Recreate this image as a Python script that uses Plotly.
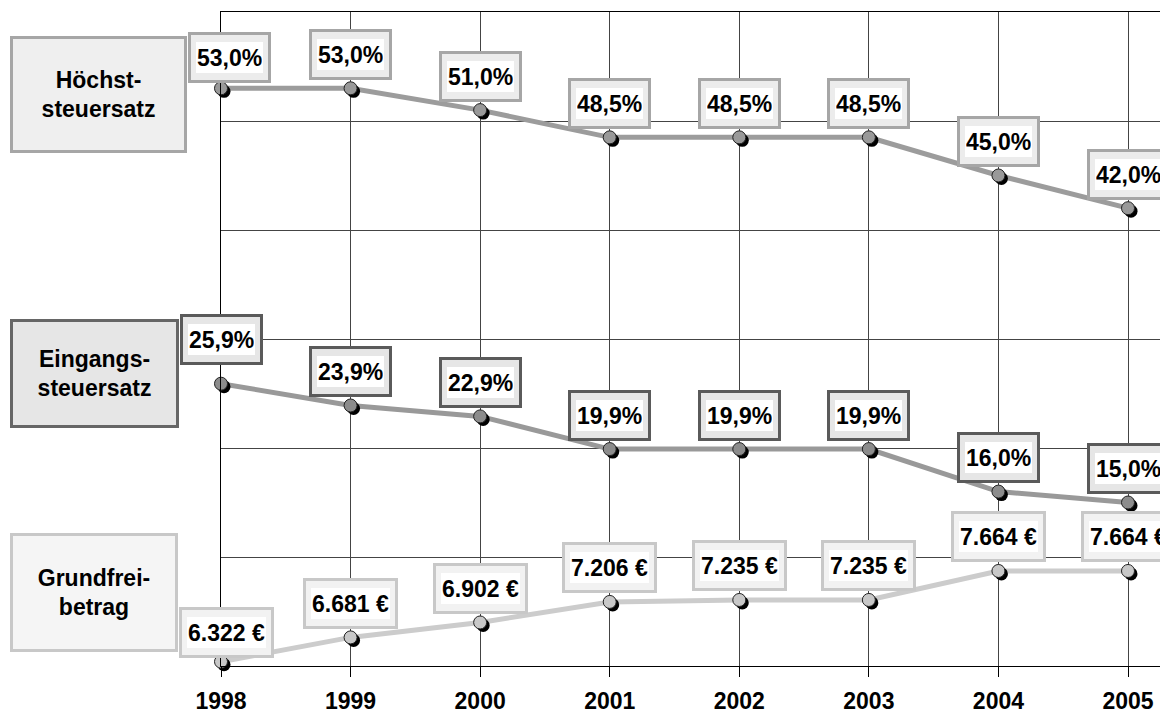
import plotly.graph_objects as go

# data
years = [1998, 1999, 2000, 2001, 2002, 2003, 2004, 2005]
hoechst = [53.0, 53.0, 51.0, 48.5, 48.5, 48.5, 45.0, 42.0]   # Höchststeuersatz in %
eingang = [25.9, 23.9, 22.9, 19.9, 19.9, 19.9, 16.0, 15.0]   # Eingangssteuersatz in %
grundfrei = [6322, 6681, 6902, 7206, 7235, 7235, 7664, 7664]  # Grundfreibetrag in €
year_labels = [str(y) for y in years]

# page geometry
W, H = 1160, 709
L, T, B = 221, 12, 43
plot_w, plot_h = W - L, H - T - B
x_range = [1998, 2005.247]
pct_range = [0, 60]
eur_range = [6258, 15934]

FONT = "Liberation Sans, Arial, sans-serif"


def fmt_pct(v):
    return f"{v:.1f}".replace(".", ",") + "%"


def fmt_eur(v):
    return f"{v:,}".replace(",", ".") + " €"


def px_x(dx):  # pixels -> x data units
    return dx * (x_range[1] - x_range[0]) / plot_w


def px_y(dy, rng):  # pixels -> y data units
    return dy * (rng[1] - rng[0]) / plot_h


series = [
    dict(name="Höchststeuersatz", y=hoechst, yref="y", rng=pct_range, fmt=fmt_pct,
         line="#9c9c9c", marker="#999999", border="#a6a6a6", fill="#ececec",
         first_shift=(8, 31)),
    dict(name="Eingangssteuersatz", y=eingang, yref="y", rng=pct_range, fmt=fmt_pct,
         line="#999999", marker="#8c8c8c", border="#5a5a5a", fill="#e6e6e6",
         first_shift=(0, 44)),
    dict(name="Grundfreibetrag", y=grundfrei, yref="y2", rng=eur_range, fmt=fmt_eur,
         line="#cccccc", marker="#c8c8c8", border="#c8c8c8", fill="#f2f2f2",
         first_shift=(5, 29)),
]

fig = go.Figure()
annotations = []

for s in series:
    yaxis = "y" if s["yref"] == "y" else "y2"
    # line
    fig.add_trace(go.Scatter(
        x=years, y=s["y"], mode="lines", yaxis=yaxis,
        line=dict(color=s["line"], width=5), cliponaxis=False, hoverinfo="skip",
    ))
    # marker shadow
    fig.add_trace(go.Scatter(
        x=[x + px_x(3) for x in years], y=[v - px_y(3, s["rng"]) for v in s["y"]],
        mode="markers", yaxis=yaxis, cliponaxis=False, hoverinfo="skip",
        marker=dict(size=13, color="black"),
    ))
    # markers
    fig.add_trace(go.Scatter(
        x=years, y=s["y"], mode="markers", yaxis=yaxis, cliponaxis=False,
        name=s["name"],
        marker=dict(size=13, color=s["marker"], line=dict(color="#222222", width=1)),
    ))
    # value labels (outer grey box + inner white panel)
    for i, (x, v) in enumerate(zip(years, s["y"])):
        xs, ys = s["first_shift"] if i == 0 else (0, 34)
        txt = "<b>" + s["fmt"](v) + "</b>"
        common = dict(x=x, y=v, xref="x", yref=s["yref"], text=txt, showarrow=False,
                      xshift=xs, yshift=ys, font=dict(family=FONT, size=23, color="black"))
        annotations.append(dict(common, bgcolor=s["fill"], bordercolor=s["border"],
                                borderwidth=3, borderpad=6, height=33))
        annotations.append(dict(common, bgcolor="white", borderwidth=0, borderpad=1,
                                height=29))


def paper_x(px):
    return (px - L) / plot_w


def paper_y(py):
    return (H - B - py) / plot_h


# side boxes: (text, left, top, right, bottom, fill, border)
side_boxes = [
    ("Höchst-<br>steuersatz", 10, 36, 187, 153, "#efefef", "#a6a6a6"),
    ("Eingangs-<br>steuersatz", 10, 319, 179, 428, "#e6e6e6", "#666666"),
    ("Grundfrei-<br>betrag", 10, 533, 178, 652, "#f5f5f5", "#c8c8c8"),
]
for txt, x0, y0, x1, y1, fill, border in side_boxes:
    annotations.append(dict(
        text="<b>" + txt + "</b>", xref="paper", yref="paper",
        x=paper_x(x0), y=paper_y(y0), xanchor="left", yanchor="top",
        width=x1 - x0 - 6, height=y1 - y0 - 6, align="center", valign="middle",
        showarrow=False, bgcolor=fill, bordercolor=border, borderwidth=3, borderpad=0,
        font=dict(family=FONT, size=23, color="black"),
    ))

fig.update_layout(
    width=W, height=H,
    margin=dict(l=L, r=0, t=T, b=B, autoexpand=False),
    paper_bgcolor="white", plot_bgcolor="white",
    showlegend=False,
    annotations=annotations,
    xaxis=dict(
        range=x_range, tickvals=years, ticktext=year_labels,
        showgrid=True, gridcolor="#444444", gridwidth=1,
        showline=True, linecolor="black", linewidth=1, mirror=True,
        ticks="outside", ticklen=10, tickcolor="black",
        ticklabelstandoff=4, automargin=False,
        tickfont=dict(family=FONT, size=23, color="black", weight="bold"),
        zeroline=False,
    ),
    yaxis=dict(
        range=pct_range, dtick=10, showticklabels=False,
        showgrid=True, gridcolor="#444444", gridwidth=1,
        showline=True, linecolor="black", linewidth=1,
        zeroline=False, ticks="", automargin=False,
    ),
    yaxis2=dict(
        range=eur_range, overlaying="y", showgrid=False, showticklabels=False,
        showline=False, zeroline=False, ticks="", automargin=False,
    ),
)

# remove the default page margin so the figure fills the window exactly
fig.write_html("out.html", config={"displayModeBar": False},
               post_script="document.body.style.margin='0';"
                           "document.body.style.overflow='hidden';")
